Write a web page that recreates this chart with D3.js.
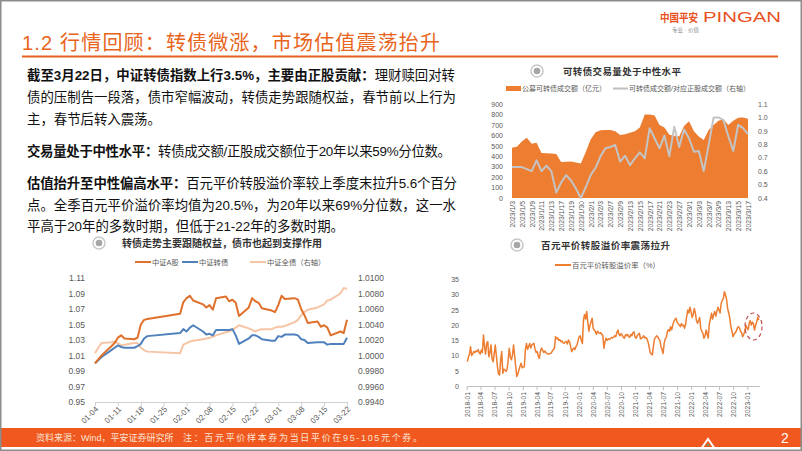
<!DOCTYPE html>
<html><head><meta charset="utf-8">
<script src="https://cdn.jsdelivr.net/npm/d3@7"></script>
<style>body{margin:0;background:#fff}svg{display:block}</style>
</head><body>
<svg id="s" width="802" height="451"></svg>
<script>
// ---------------- DATA ----------------
const tradeDates = ["2023/1/3","2023/1/4","2023/1/5","2023/1/6","2023/1/9","2023/1/10","2023/1/11","2023/1/12","2023/1/13","2023/1/16","2023/1/17","2023/1/18","2023/1/19","2023/1/20","2023/1/30","2023/1/31","2023/2/1","2023/2/2","2023/2/3","2023/2/6","2023/2/7","2023/2/8","2023/2/9","2023/2/10","2023/2/13","2023/2/14","2023/2/15","2023/2/16","2023/2/17","2023/2/20","2023/2/21","2023/2/22","2023/2/23","2023/2/24","2023/2/27","2023/2/28","2023/3/1","2023/3/2","2023/3/3","2023/3/6","2023/3/7","2023/3/8","2023/3/9","2023/3/10","2023/3/13","2023/3/14","2023/3/15","2023/3/16","2023/3/17"];
const tradeVolume = [482,490,540,578,520,530,430,428,426,422,345,348,350,340,330,440,560,630,648,650,652,640,603,610,625,640,675,800,800,790,700,675,605,595,590,690,735,640,590,555,650,700,740,755,700,740,768,770,758];
const tradeRatio = [0.63,0.63,0.63,0.615,0.60,0.68,0.60,0.64,0.60,0.44,0.515,0.57,0.53,0.47,0.40,0.48,0.57,0.625,0.71,0.77,0.78,0.795,0.67,0.715,0.645,0.695,0.74,0.695,0.92,0.845,0.77,0.865,0.71,0.93,0.78,0.91,0.845,0.745,0.75,0.60,0.795,1.00,1.00,0.98,0.86,0.75,0.945,0.92,0.875];
const volTicks = [0,100,200,300,400,500,600,700,800,900];
const ratioTicks = [0.4,0.5,0.6,0.7,0.8,0.9,1.0,1.1];

const idxDates = ["2023-01-04","2023-01-05","2023-01-06","2023-01-09","2023-01-10","2023-01-11","2023-01-12","2023-01-13","2023-01-16","2023-01-17","2023-01-18","2023-01-19","2023-01-20","2023-01-30","2023-01-31","2023-02-01","2023-02-02","2023-02-03","2023-02-06","2023-02-07","2023-02-08","2023-02-09","2023-02-10","2023-02-13","2023-02-14","2023-02-15","2023-02-16","2023-02-17","2023-02-20","2023-02-21","2023-02-22","2023-02-23","2023-02-24","2023-02-27","2023-02-28","2023-03-01","2023-03-02","2023-03-03","2023-03-06","2023-03-07","2023-03-08","2023-03-09","2023-03-10","2023-03-13","2023-03-14","2023-03-15","2023-03-16","2023-03-17","2023-03-20","2023-03-21","2023-03-22"];
const csiA = [1.000,1.005,1.010,1.022,1.026,1.033,1.036,1.032,1.031,1.033,1.050,1.056,1.057,1.064,1.079,1.084,1.087,1.081,1.076,1.072,1.075,1.069,1.084,1.086,1.080,1.082,1.078,1.061,1.072,1.084,1.080,1.078,1.071,1.068,1.066,1.075,1.087,1.083,1.084,1.082,1.070,1.062,1.052,1.054,1.047,1.049,1.046,1.036,1.041,1.039,1.056];
const csiCB = [1.000,1.004,1.008,1.017,1.020,1.023,1.021,1.020,1.020,1.022,1.025,1.032,1.035,1.039,1.044,1.041,1.046,1.049,1.041,1.037,1.038,1.036,1.043,1.043,1.043,1.044,1.036,1.025,1.032,1.036,1.036,1.034,1.031,1.029,1.029,1.035,1.034,1.037,1.037,1.036,1.031,1.030,1.026,1.027,1.027,1.027,1.024,1.025,1.025,1.025,1.033];
const csiBond = [1.0003,1.0010,1.0016,1.0017,1.0018,1.0016,1.0013,1.0014,1.0016,1.0016,1.0010,1.0007,1.0005,1.0003,1.0014,1.0016,1.0018,1.0019,1.0021,1.0022,1.0023,1.0024,1.0026,1.0030,1.0031,1.0033,1.0036,1.0039,1.0035,1.0033,1.0031,1.0033,1.0034,1.0034,1.0036,1.0037,1.0037,1.0038,1.0043,1.0046,1.0052,1.0056,1.0059,1.0062,1.0064,1.0066,1.0071,1.0072,1.0080,1.0087,1.0086];
const idxTickDates = ["2023-01-04","2023-01-11","2023-01-18","2023-01-25","2023-02-01","2023-02-08","2023-02-15","2023-02-22","2023-03-01","2023-03-08","2023-03-15","2023-03-22"];
const idxLeftTicks = [0.95,0.97,0.99,1.01,1.03,1.05,1.07,1.09,1.11];
const idxRightTicks = [0.994,0.996,0.998,1.000,1.002,1.004,1.006,1.008,1.010];

const premStart = "2018-01-05"; // weekly observations
const premValues = [8.0,9.5,10.5,12.9,10.0,10.5,11.3,11.0,11.5,11.3,12.0,11.0,10.5,11.8,11.0,16.8,13.0,10.5,14.0,14.6,9.6,11.0,13.5,9.0,8.0,10.5,13.5,10.0,6.4,4.0,3.6,8.6,11.3,4.2,5.5,5.3,4.8,5.5,8.6,12.4,9.5,8.6,10.2,13.5,10.0,6.4,3.1,4.0,5.3,6.5,7.5,6.0,6.2,6.4,12.0,14.0,12.0,13.0,14.0,12.5,13.5,13.8,14.0,12.0,11.0,11.3,9.8,9.1,11.5,12.5,11.8,11.0,11.5,11.0,10.7,10.5,10.5,10.7,10.8,11.5,12.0,12.4,16.2,15.5,15.8,15.0,15.2,14.6,14.8,14.2,14.0,14.5,14.6,13.8,15.1,14.5,13.0,11.3,12.0,12.5,12.0,13.0,13.5,15.0,16.2,16.5,15.0,14.0,21.7,23.5,22.0,24.5,21.0,18.0,20.0,21.0,22.3,19.0,18.4,18.0,17.0,18.0,17.5,17.3,17.5,17.0,16.5,12.4,14.5,15.7,15.0,15.5,15.3,15.5,16.0,15.8,16.0,16.5,16.2,17.5,18.4,17.0,16.5,17.2,16.8,16.0,15.7,16.8,16.5,17.0,16.2,16.0,17.0,16.5,17.5,17.8,16.0,15.7,16.5,17.0,17.3,15.5,15.7,16.0,16.5,15.8,16.0,15.5,14.5,12.9,11.0,10.5,10.2,13.0,15.5,16.0,16.5,16.2,15.5,15.0,13.0,12.0,10.7,14.0,15.5,16.0,17.9,18.5,18.0,19.5,18.5,20.0,21.2,21.8,22.3,21.0,20.5,20.0,19.5,20.5,19.8,20.0,19.0,20.5,23.0,25.0,24.0,25.9,24.5,22.5,23.5,25.5,24.0,21.5,20.6,21.5,22.5,19.0,18.0,17.3,15.7,16.5,18.4,17.0,15.8,20.6,22.0,23.9,22.0,23.5,24.5,23.0,24.5,25.9,25.0,24.0,27.2,28.0,28.8,31.0,30.0,28.5,25.5,24.0,22.3,19.5,18.0,16.2,17.0,17.5,18.0,19.0,19.5,19.0,18.0,17.5,16.2,17.0,18.0,20.0,19.0,18.5,20.6,21.5,20.0,21.0,20.5,18.4,20.0,21.0,22.6,21.7];
const premTicks = [0,5,10,15,20,25,30,35];
const premTickDates = ["2018-01","2018-04","2018-07","2018-10","2019-01","2019-04","2019-07","2019-10","2020-01","2020-04","2020-07","2020-10","2021-01","2021-04","2021-07","2021-10","2022-01","2022-04","2022-07","2022-10","2023-01"];

// ---------------- STYLE ----------------
const F = "'Liberation Sans','Noto Sans CJK SC',sans-serif";
const ORANGE = "#ED7D31", TITLE = "#E8641B", AXT = "#595959";
const svg = d3.select("#s").style("font-family", F);
svg.append("rect").attr("width",802).attr("height",451).attr("fill","#fff");

// ---------------- HEADER ----------------
svg.append("text").attr("x",22).attr("y",50).attr("font-size",20).attr("fill",TITLE)
  .attr("textLength",418).attr("lengthAdjust","spacing")
  .text("1.2 行情回顾：转债微涨，市场估值震荡抬升");
svg.append("line").attr("x1",22).attr("x2",778).attr("y1",56.5).attr("y2",56.5)
  .attr("stroke","#E8601E").attr("stroke-width",2);
svg.append("text").attr("x",660).attr("y",22).attr("font-size",11.5).attr("font-weight",700)
  .attr("fill","#E8501E").attr("textLength",38).attr("lengthAdjust","spacingAndGlyphs").text("中国平安");
svg.append("text").attr("x",703).attr("y",22).attr("font-size",14)
  .attr("fill","#E8501E").attr("textLength",78).attr("lengthAdjust","spacingAndGlyphs").text("PINGAN");
svg.append("text").attr("x",672).attr("y",32).attr("font-size",5.5).attr("fill","#8c8c8c").text("专业 · 价值");

// ---------------- TEXT BLOCK ----------------
const paras = [
  {y:80, parts:[["截至3月22日，中证转债指数上行3.5%，主要由正股贡献：",700],["理财赎回对转",400]], w:428},
  {y:102, parts:[["债的压制告一段落，债市窄幅波动，转债走势跟随权益，春节前以上行为",400]], w:429},
  {y:124, parts:[["主，春节后转入震荡。",400]]},
  {y:156, parts:[["交易量处于中性水平：",700],["转债成交额/正股成交额位于20年以来59%分位数。",400]], w:424},
  {y:188, parts:[["估值抬升至中性偏高水平：",700],["百元平价转股溢价率较上季度末拉升5.6个百分",400]], w:430},
  {y:210, parts:[["点。全季百元平价溢价率均值为20.5%，为20年以来69%分位数，这一水",400]], w:429},
  {y:231, parts:[["平高于20年的多数时期，但低于21-22年的多数时期。",400]]}
];
paras.forEach(p=>{
  const t = svg.append("text").attr("x",27).attr("y",p.y).attr("font-size",13.4).attr("fill","#111");
  if(p.w) t.attr("textLength",p.w).attr("lengthAdjust","spacing");
  p.parts.forEach(([s,w])=>t.append("tspan").attr("font-weight",w).text(s));
});

function icon(cx,cy){
  svg.append("circle").attr("cx",cx).attr("cy",cy).attr("r",6).attr("fill","#fff").attr("stroke","#c8c8c8").attr("stroke-width",1.5);
  svg.append("circle").attr("cx",cx).attr("cy",cy).attr("r",3.3).attr("fill","#a6a6a6");
}
function styleAxis(g,size,color){
  g.attr("font-family",F).attr("font-size",size);
  g.selectAll("text").attr("fill",color);
}

// ---------------- CHART 1: trade volume ----------------
icon(537,71);
svg.append("text").attr("x",563).attr("y",75).attr("font-size",9.5).attr("font-weight",700).attr("fill","#333")
  .attr("textLength",118).attr("lengthAdjust","spacing").text("可转债交易量处于中性水平");
svg.append("rect").attr("x",506).attr("y",86).attr("width",15).attr("height",5).attr("fill",ORANGE);
svg.append("text").attr("x",522).attr("y",91).attr("font-size",7).attr("fill",AXT).text("公募可转债成交额（亿元）");
svg.append("line").attr("x1",613).attr("x2",628).attr("y1",88.5).attr("y2",88.5).attr("stroke","#bfbfbf").attr("stroke-width",2);
svg.append("text").attr("x",629).attr("y",91).attr("font-size",7).attr("fill",AXT).text("可转债成交额/对应正股成交额（右轴）");

const x1 = d3.scalePoint().domain(tradeDates).range([512,748]);
const y1L = d3.scaleLinear().domain([0,900]).range([198,104]);
const y1R = d3.scaleLinear().domain([0.4,1.1]).range([198,104]);
svg.append("path").datum(tradeVolume)
  .attr("d", d3.area().x((d,i)=>x1(tradeDates[i])).y0(y1L(0)).y1(d=>y1L(d)))
  .attr("fill",ORANGE);
svg.append("path").datum(tradeRatio)
  .attr("d", d3.line().x((d,i)=>x1(tradeDates[i])).y(d=>y1R(d)))
  .attr("fill","none").attr("stroke","#c4c4c4").attr("stroke-width",2).attr("stroke-linejoin","round");
let g = svg.append("g").attr("transform","translate(503,0)")
  .call(d3.axisLeft(y1L).tickValues(volTicks).tickSize(0).tickPadding(0));
g.select(".domain").remove(); styleAxis(g,7,AXT);
g = svg.append("g").attr("transform","translate(758,0)")
  .call(d3.axisRight(y1R).tickValues(ratioTicks).tickFormat(d3.format(".1f")).tickSize(0).tickPadding(0));
g.select(".domain").remove(); styleAxis(g,7,AXT);
g = svg.append("g").attr("transform","translate(0,199)")
  .call(d3.axisBottom(x1).tickValues(tradeDates.filter((d,i)=>i%2===0)).tickSize(0));
g.select(".domain").remove(); styleAxis(g,6.8,AXT);
g.selectAll("text").attr("y",0).attr("x",-2).attr("dy",".35em").attr("transform","rotate(-90)").attr("text-anchor","end");

// ---------------- CHART 2: indices ----------------
icon(99,243);
svg.append("text").attr("x",122).attr("y",247).attr("font-size",10).attr("font-weight",700).attr("fill","#333")
  .attr("textLength",200).attr("lengthAdjust","spacing").text("转债走势主要跟随权益，债市也起到支撑作用");
const legend2 = [["中证A股","#E0712C",135],["中证转债","#4F81BD",182],["中证全债（右轴）","#F6C5A5",250]];
legend2.forEach(([t,c,x])=>{
  svg.append("line").attr("x1",x).attr("x2",x+16).attr("y1",262).attr("y2",262).attr("stroke",c).attr("stroke-width",2);
  svg.append("text").attr("x",x+17).attr("y",264.5).attr("font-size",7.3).attr("fill",AXT).text(t);
});
const pDate = d3.timeParse("%Y-%m-%d");
const x2 = d3.scaleTime().domain([pDate("2023-01-04"),pDate("2023-03-22")]).range([95,347]);
const y2L = d3.scaleLinear().domain([0.95,1.11]).range([402,278]);
const y2R = d3.scaleLinear().domain([0.994,1.010]).range([402,278]);
const idxD = idxDates.map(pDate);
g = svg.append("g").attr("transform","translate(0,402)")
  .call(d3.axisBottom(x2).tickValues(idxTickDates.map(pDate)).tickFormat(d3.timeFormat("%m-%d")).tickSize(4).tickSizeOuter(0));
g.selectAll("line,path").attr("stroke","#d0d0d0");
styleAxis(g,8,AXT);
g.selectAll("text").attr("x",-3).attr("y",5).attr("dy",".35em").attr("transform","rotate(-45)").attr("text-anchor","end");
g = svg.append("g").attr("transform","translate(85,0)")
  .call(d3.axisLeft(y2L).tickValues(idxLeftTicks).tickFormat(d3.format(".2f")).tickSize(0).tickPadding(0));
g.select(".domain").remove(); styleAxis(g,8.5,AXT);
g = svg.append("g").attr("transform","translate(358,0)")
  .call(d3.axisRight(y2R).tickValues(idxRightTicks).tickFormat(d3.format(".4f")).tickSize(0).tickPadding(0));
g.select(".domain").remove(); styleAxis(g,8.5,AXT);
[[csiBond,y2R,"#F6C5A5"],[csiCB,y2L,"#4F81BD"],[csiA,y2L,"#E0712C"]].forEach(([arr,ys,c])=>{
  svg.append("path").datum(arr)
    .attr("d", d3.line().x((d,i)=>x2(idxD[i])).y(d=>ys(d)))
    .attr("fill","none").attr("stroke",c).attr("stroke-width",2).attr("stroke-linejoin","round");
});

// ---------------- CHART 3: premium ----------------
icon(517,245);
svg.append("text").attr("x",541).attr("y",249).attr("font-size",9.5).attr("font-weight",700).attr("fill","#333")
  .attr("textLength",129).attr("lengthAdjust","spacing").text("百元平价转股溢价率震荡拉升");
svg.append("line").attr("x1",555).attr("x2",571).attr("y1",265).attr("y2",265).attr("stroke",ORANGE).attr("stroke-width",2);
svg.append("text").attr("x",572).attr("y",267.5).attr("font-size",7.4).attr("fill",AXT).text("百元平价转股溢价率（%）");
const pMonth = d3.timeParse("%Y-%m");
const t0 = pMonth("2018-01"), t1 = pMonth("2023-01"), tEnd = pDate("2023-03-20");
const pxPerMs = (747.3-466.7)/(t1-t0);
const x3 = d3.scaleTime().domain([t0,tEnd]).range([466.7, 466.7 + (tEnd-t0)*pxPerMs]);
const y3 = d3.scaleLinear().domain([0,35]).range([386,279.5]);
const premDates = premValues.map((v,i)=>d3.timeDay.offset(pDate(premStart), i*7));
g = svg.append("g").attr("transform","translate(0,386)")
  .call(d3.axisBottom(x3).tickValues(premTickDates.map(pMonth)).tickFormat(d3.timeFormat("%Y-%m")).tickSize(4).tickSizeOuter(0));
g.selectAll("line,path").attr("stroke","#bfbfbf");
styleAxis(g,6.8,AXT);
g.selectAll("text").attr("y",0).attr("x",-6).attr("dy",".35em").attr("transform","rotate(-90)").attr("text-anchor","end");
g = svg.append("g").attr("transform","translate(459,0)")
  .call(d3.axisLeft(y3).tickValues(premTicks).tickSize(0).tickPadding(0));
g.select(".domain").remove(); styleAxis(g,7,AXT);
svg.append("path").datum(premValues)
  .attr("d", d3.line().x((d,i)=>x3(premDates[i])).y(d=>y3(d)))
  .attr("fill","none").attr("stroke",ORANGE).attr("stroke-width",1.5).attr("stroke-linejoin","round");
svg.append("ellipse").attr("cx",753.5).attr("cy",326.5).attr("rx",8.5).attr("ry",13.5)
  .attr("fill","none").attr("stroke","#C0504D").attr("stroke-width",1.2).attr("stroke-dasharray","4,3");

// ---------------- FOOTER ----------------
svg.append("rect").attr("x",0).attr("y",428).attr("width",802).attr("height",19).attr("fill","#F0581F");
svg.append("text").attr("x",36).attr("y",441).attr("font-size",9).attr("fill","#FBE3D2")
  .text("资料来源：Wind，平安证券研究所");
svg.append("text").attr("x",183).attr("y",441).attr("font-size",9).attr("fill","#FBE3D2")
  .attr("textLength",239).attr("lengthAdjust","spacing").text("注：百元平价样本券为当日平价在95-105元个券。");
svg.append("text").attr("x",781).attr("y",443).attr("font-size",14).attr("fill","#fff").text("2");
svg.append("path").attr("d","M702,447.5 L708,439 L714,447.5").attr("fill","none").attr("stroke","#fff").attr("stroke-width",2);
svg.append("circle").attr("cx",708).attr("cy",445).attr("r",1.3).attr("fill","#6a9a5a");

// frame
svg.append("rect").attr("x",0.75).attr("y",0.75).attr("width",800.5).attr("height",449.5)
  .attr("fill","none").attr("stroke","#8c8c8c").attr("stroke-width",1.5);
</script>
</body></html>
